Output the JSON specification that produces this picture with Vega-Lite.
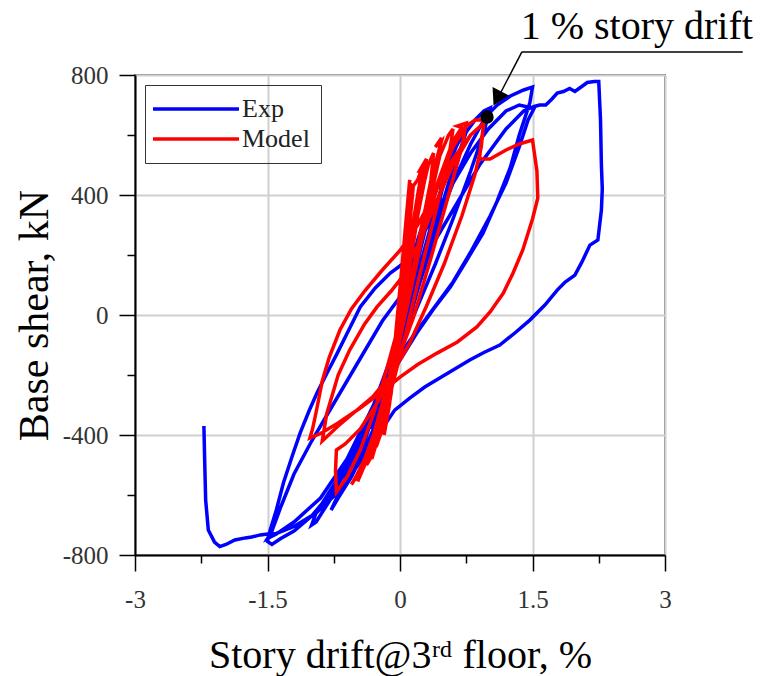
{
  "$schema": "https://vega.github.io/schema/vega-lite/v6.json",
  "width": 530,
  "height": 480,
  "autosize": "none",
  "padding": {"left": 135, "top": 75, "right": 101, "bottom": 121},
  "config": {
    "font": "Liberation Serif",
    "view": {"stroke": "#7a7a7a", "strokeWidth": 2},
    "axis": {
      "domainColor": "black",
      "domainWidth": 2,
      "tickColor": "black",
      "tickWidth": 1.5,
      "gridColor": "#d0d0d0",
      "gridWidth": 2,
      "labelFont": "Liberation Serif",
      "labelFontSize": 25,
      "labelColor": "#333333",
      "labelOverlap": false,
      "labelFlush": false,
      "titleFont": "Liberation Serif",
      "titleFontWeight": "normal",
      "titleColor": "black"
    }
  },
  "datasets": {
    "exp": [
      {"x":0,"y":0},{"x":0.1,"y":130},{"x":0.2,"y":250},{"x":0.3,"y":340},{"x":0.35,"y":380},{"x":0.3,"y":300},{"x":0.2,"y":180},{"x":0.1,"y":60},{"x":0,"y":-70},{"x":-0.1,"y":-180},{"x":-0.2,"y":-270},{"x":-0.3,"y":-350},{"x":-0.33,"y":-380},{"x":-0.25,"y":-310},{"x":-0.15,"y":-220},{"x":-0.05,"y":-120},{"x":0.05,"y":10},{"x":0.15,"y":150},{"x":0.25,"y":270},{"x":0.35,"y":370},
      {"x":0.45,"y":450},{"x":0.55,"y":520},{"x":0.5,"y":460},{"x":0.4,"y":350},{"x":0.25,"y":190},{"x":0.1,"y":40},{"x":0,"y":-60},{"x":-0.1,"y":-150},{"x":-0.25,"y":-290},{"x":-0.4,"y":-420},{"x":-0.5,"y":-500},{"x":-0.55,"y":-540},{"x":-0.45,"y":-480},{"x":-0.3,"y":-380},{"x":-0.15,"y":-260},{"x":0,"y":-120},{"x":0.1,"y":0},{"x":0.25,"y":170},{"x":0.4,"y":330},{"x":0.55,"y":500},
      {"x":0.65,"y":570},{"x":0.75,"y":620},{"x":0.7,"y":560},{"x":0.55,"y":420},{"x":0.35,"y":220},{"x":0.15,"y":40},{"x":0,"y":-70},{"x":-0.15,"y":-190},{"x":-0.35,"y":-360},{"x":-0.55,"y":-500},{"x":-0.7,"y":-600},{"x":-0.78,"y":-650},{"x":-0.7,"y":-610},{"x":-0.55,"y":-540},{"x":-0.35,"y":-420},{"x":-0.15,"y":-260},{"x":0,"y":-130},{"x":0.15,"y":30},{"x":0.35,"y":240},{"x":0.55,"y":440},{"x":0.75,"y":610},
      {"x":0.85,"y":650},{"x":0.95,"y":680},{"x":1.02,"y":690},{"x":0.95,"y":610},{"x":0.8,"y":480},{"x":0.6,"y":320},{"x":0.4,"y":170},{"x":0.2,"y":30},{"x":0,"y":-110},{"x":-0.2,"y":-250},{"x":-0.4,"y":-390},{"x":-0.6,"y":-510},{"x":-0.8,"y":-620},{"x":-0.95,"y":-690},{"x":-1.0,"y":-700},{"x":-0.95,"y":-660},{"x":-0.8,"y":-590},{"x":-0.6,"y":-500},{"x":-0.4,"y":-380},{"x":-0.2,"y":-220},{"x":0,"y":-60},{"x":0.2,"y":120},{"x":0.4,"y":290},{"x":0.6,"y":440},{"x":0.8,"y":570},{"x":0.95,"y":650},{"x":1.0,"y":670},
      {"x":1.1,"y":700},{"x":1.25,"y":730},{"x":1.4,"y":750},{"x":1.5,"y":760},{"x":1.47,"y":707},{"x":1.35,"y":600},{"x":1.25,"y":493},{"x":1.1,"y":380},{"x":0.94,"y":273},{"x":0.75,"y":180},{"x":0.57,"y":93},{"x":0.38,"y":20},{"x":0.19,"y":-60},{"x":0,"y":-150},{"x":-0.2,"y":-260},{"x":-0.4,"y":-380},{"x":-0.6,"y":-500},{"x":-0.8,"y":-600},{"x":-1.0,"y":-670},{"x":-1.2,"y":-720},{"x":-1.35,"y":-745},{"x":-1.45,"y":-765},{"x":-1.5,"y":-755},{"x":-1.47,"y":-717},{"x":-1.4,"y":-650},{"x":-1.32,"y":-560},{"x":-1.22,"y":-470},{"x":-1.13,"y":-393},{"x":-1.03,"y":-320},{"x":-0.94,"y":-260},{"x":-0.82,"y":-190},{"x":-0.71,"y":-127},{"x":-0.58,"y":-50},{"x":-0.45,"y":27},{"x":-0.28,"y":90},{"x":-0.11,"y":140},{"x":0.03,"y":170},{"x":0.2,"y":240},{"x":0.4,"y":340},{"x":0.6,"y":440},{"x":0.8,"y":540},{"x":1.0,"y":620},{"x":1.2,"y":680},{"x":1.35,"y":700},{"x":1.5,"y":690},
      {"x":1.52,"y":690},{"x":1.45,"y":650},{"x":1.35,"y":560},{"x":1.2,"y":440},{"x":1.02,"y":330},{"x":0.8,"y":210},{"x":0.6,"y":110},{"x":0.4,"y":30},{"x":0.2,"y":-50},{"x":0,"y":-130},{"x":-0.3,"y":-300},{"x":-0.6,"y":-480},{"x":-0.9,"y":-610},{"x":-1.2,"y":-690},{"x":-1.4,"y":-730},{"x":-1.5,"y":-745},{"x":-1.45,"y":-720},{"x":-1.35,"y":-640},{"x":-1.2,"y":-530},{"x":-1.0,"y":-420},{"x":-0.8,"y":-320},{"x":-0.6,"y":-220},{"x":-0.4,"y":-120},{"x":-0.2,"y":-20},{"x":0,"y":60},{"x":0.3,"y":200},{"x":0.6,"y":350},{"x":0.9,"y":500},{"x":1.2,"y":620},{"x":1.4,"y":680},{"x":1.52,"y":695},
      {"x":1.58,"y":700},{"x":1.65,"y":700},{"x":1.72,"y":720},{"x":1.78,"y":740},{"x":1.85,"y":745},{"x":1.92,"y":755},{"x":1.98,"y":745},{"x":2.05,"y":760},{"x":2.12,"y":775},{"x":2.2,"y":778},{"x":2.25,"y":778},{"x":2.27,"y":650},{"x":2.28,"y":500},{"x":2.29,"y":420},{"x":2.28,"y":350},{"x":2.26,"y":300},{"x":2.24,"y":250},{"x":2.15,"y":233},{"x":2.06,"y":177},{"x":1.98,"y":133},{"x":1.87,"y":110},{"x":1.78,"y":83},{"x":1.64,"y":33},{"x":1.47,"y":-17},{"x":1.3,"y":-60},{"x":1.13,"y":-100},{"x":0.95,"y":-125},{"x":0.79,"y":-150},{"x":0.62,"y":-180},{"x":0.45,"y":-210},{"x":0.28,"y":-240},{"x":0.11,"y":-277},{"x":-0.06,"y":-317},{"x":-0.25,"y":-400},{"x":-0.45,"y":-490},{"x":-0.7,"y":-590},{"x":-0.95,"y":-660},{"x":-1.2,"y":-705},{"x":-1.4,"y":-728},{"x":-1.5,"y":-730},{"x":-1.58,"y":-733},{"x":-1.68,"y":-740},{"x":-1.75,"y":-743},{"x":-1.87,"y":-750},{"x":-1.97,"y":-765},{"x":-2.04,"y":-772},{"x":-2.1,"y":-757},{"x":-2.17,"y":-717},{"x":-2.2,"y":-617},{"x":-2.21,"y":-500},{"x":-2.22,"y":-370}
    ],
    "model": [
      {"x":0,"y":0},{"x":0.05,"y":150},{"x":0.1,"y":300},{"x":0.12,"y":440},{"x":0.08,"y":330},{"x":0.03,"y":150},{"x":-0.03,"y":-50},{"x":-0.1,"y":-220},{"x":-0.15,"y":-350},{"x":-0.1,"y":-260},{"x":-0.04,"y":-100},{"x":0.02,"y":80},{"x":0.08,"y":280},{"x":0.11,"y":450},{"x":0.07,"y":320},{"x":0.01,"y":120},{"x":-0.06,"y":-100},{"x":-0.13,"y":-280},{"x":-0.18,"y":-400},{"x":-0.12,"y":-300},{"x":-0.05,"y":-130},{"x":0.02,"y":60},{"x":0.1,"y":270},{"x":0.15,"y":430},
      {"x":0.2,"y":450},{"x":0.26,"y":500},{"x":0.2,"y":400},{"x":0.1,"y":220},{"x":0,"y":30},{"x":-0.1,"y":-170},{"x":-0.2,"y":-330},{"x":-0.27,"y":-440},{"x":-0.2,"y":-380},{"x":-0.1,"y":-230},{"x":0,"y":-60},{"x":0.1,"y":140},{"x":0.2,"y":330},{"x":0.3,"y":480},
      {"x":0.22,"y":480},{"x":0.3,"y":520},{"x":0.25,"y":430},{"x":0.15,"y":260},{"x":0.05,"y":80},{"x":-0.05,"y":-100},{"x":-0.15,"y":-260},{"x":-0.25,"y":-400},{"x":-0.32,"y":-480},{"x":-0.26,"y":-420},{"x":-0.16,"y":-300},{"x":-0.06,"y":-140},{"x":0.04,"y":40},{"x":0.14,"y":230},{"x":0.24,"y":400},{"x":0.32,"y":500},
      {"x":0.38,"y":540},{"x":0.35,"y":450},{"x":0.25,"y":300},{"x":0.12,"y":110},{"x":0,"y":-80},{"x":-0.12,"y":-250},{"x":-0.25,"y":-400},{"x":-0.38,"y":-500},{"x":-0.3,"y":-460},{"x":-0.18,"y":-330},{"x":-0.05,"y":-160},{"x":0.08,"y":40},{"x":0.22,"y":260},{"x":0.36,"y":460},{"x":0.47,"y":580},
      {"x":0.4,"y":560},{"x":0.47,"y":590},{"x":0.42,"y":500},{"x":0.3,"y":330},{"x":0.15,"y":130},{"x":0,"y":-70},{"x":-0.15,"y":-250},{"x":-0.3,"y":-400},{"x":-0.42,"y":-510},{"x":-0.48,"y":-555},{"x":-0.4,"y":-500},{"x":-0.28,"y":-400},{"x":-0.12,"y":-230},{"x":0.03,"y":-40},{"x":0.18,"y":160},{"x":0.33,"y":370},{"x":0.45,"y":530},{"x":0.55,"y":600},
      {"x":0.6,"y":620},{"x":0.55,"y":520},{"x":0.4,"y":340},{"x":0.22,"y":130},{"x":0.05,"y":-80},{"x":-0.1,"y":-250},{"x":-0.3,"y":-420},{"x":-0.5,"y":-540},{"x":-0.55,"y":-565},{"x":-0.45,"y":-520},{"x":-0.3,"y":-400},{"x":-0.12,"y":-210},{"x":0.05,"y":0},{"x":0.2,"y":200},{"x":0.4,"y":420},{"x":0.6,"y":580},{"x":0.7,"y":625},
      {"x":0.65,"y":630},{"x":0.75,"y":640},{"x":0.7,"y":560},{"x":0.55,"y":400},{"x":0.35,"y":190},{"x":0.15,"y":-10},{"x":-0.05,"y":-170},{"x":-0.25,"y":-290},{"x":-0.45,"y":-380},{"x":-0.62,"y":-430},{"x":-0.72,"y":-450},{"x":-0.73,"y":-520},{"x":-0.72,"y":-590},{"x":-0.6,"y":-540},{"x":-0.45,"y":-450},{"x":-0.3,"y":-330},{"x":-0.15,"y":-180},{"x":0,"y":-20},{"x":0.15,"y":150},{"x":0.3,"y":310},{"x":0.45,"y":450},{"x":0.6,"y":560},{"x":0.75,"y":630},{"x":0.85,"y":650},
      {"x":0.95,"y":650},{"x":0.92,"y":560},{"x":0.85,"y":470},{"x":0.7,"y":330},{"x":0.5,"y":170},{"x":0.3,"y":30},{"x":0.1,"y":-100},{"x":-0.1,"y":-200},{"x":-0.3,"y":-270},{"x":-0.5,"y":-320},{"x":-0.7,"y":-370},{"x":-0.88,"y":-420},{"x":-0.83,"y":-330},{"x":-0.7,"y":-200},{"x":-0.57,"y":-117},{"x":-0.4,"y":-30},{"x":-0.26,"y":27},{"x":-0.1,"y":80},{"x":0,"y":117},{"x":0.2,"y":230},{"x":0.4,"y":370},{"x":0.6,"y":500},{"x":0.8,"y":600},{"x":0.95,"y":640},
      {"x":0.92,"y":580},{"x":0.9,"y":520},{"x":1.02,"y":520},{"x":1.2,"y":550},{"x":1.35,"y":570},{"x":1.5,"y":583},{"x":1.55,"y":480},{"x":1.56,"y":390},{"x":1.5,"y":320},{"x":1.39,"y":217},{"x":1.28,"y":140},{"x":1.17,"y":73},{"x":1.02,"y":10},{"x":0.87,"y":-40},{"x":0.65,"y":-90},{"x":0.42,"y":-127},{"x":0.2,"y":-165},{"x":0,"y":-207},{"x":-0.2,"y":-255},{"x":-0.45,"y":-310},{"x":-0.7,"y":-360},{"x":-0.9,"y":-395},{"x":-1.02,"y":-410},{"x":-0.99,"y":-380},{"x":-0.94,"y":-310},{"x":-0.88,"y":-220},{"x":-0.8,"y":-140},{"x":-0.68,"y":-50},{"x":-0.55,"y":20},{"x":-0.4,"y":80},{"x":-0.2,"y":150},{"x":0,"y":215},{"x":0.2,"y":300},{"x":0.4,"y":410},{"x":0.6,"y":520},{"x":0.8,"y":600},{"x":0.93,"y":635}
    ]
  },
  "layer": [
    {
      "data": {"name": "exp"},
      "mark": {"type": "line", "order": false, "strokeWidth": 3.5, "clip": true},
      "encoding": {
        "x": {
          "field": "x", "type": "quantitative",
          "scale": {"domain": [-3, 3], "nice": false, "zero": false},
          "axis": {
            "values": [-3, -2.25, -1.5, -0.75, 0, 0.75, 1.5, 2.25, 3],
            "labelExpr": "abs(datum.value % 1.5) < 0.001 ? '' + datum.value : ''",
            "tickSize": {"condition": {"test": "abs(datum.value % 1.5) < 0.001", "value": 16}, "value": 8},
            "gridOpacity": {"condition": {"test": "abs(datum.value % 1.5) < 0.001", "value": 1}, "value": 0},
            "labelFont": "Liberation Serif",
            "labelFontSize": 25,
            "labelPadding": 16,
            "title": "Story drift@3ʳᵈ floor, %",
            "titleFontSize": 40,
            "titlePadding": 23
          }
        },
        "y": {
          "field": "y", "type": "quantitative",
          "scale": {"domain": [-800, 800], "nice": false, "zero": false},
          "axis": {
            "values": [-800, -600, -400, -200, 0, 200, 400, 600, 800],
            "labelExpr": "abs(datum.value % 400) < 1 ? '' + datum.value : ''",
            "tickSize": {"condition": {"test": "abs(datum.value % 400) < 1", "value": 16}, "value": 8},
            "gridOpacity": {"condition": {"test": "abs(datum.value % 400) < 1", "value": 1}, "value": 0},
            "labelFont": "Liberation Serif",
            "labelFontSize": 25,
            "labelPadding": 11,
            "title": "Base shear, kN",
            "titleFontSize": 42,
            "titlePadding": 6
          }
        },
        "color": {
          "datum": "Exp",
          "scale": {"domain": ["Exp", "Model"], "range": ["#0000ff", "#ff0000"]},
          "legend": {
            "title": null,
            "orient": "top-left",
            "offset": 10,
            "padding": 11,
            "strokeColor": "#333333",
            "symbolType": "M-5,0H5",
            "symbolSize": 296,
            "symbolStrokeWidth": 3.5,
            "symbolOffset": 27,
            "labelOffset": 33,
            "labelFont": "Liberation Serif",
            "labelFontSize": 26,
            "labelColor": "#222222",
            "rowPadding": 4
          }
        }
      }
    },
    {
      "data": {"name": "model"},
      "mark": {"type": "line", "order": false, "strokeWidth": 3.5, "clip": true},
      "encoding": {
        "x": {"field": "x", "type": "quantitative"},
        "y": {"field": "y", "type": "quantitative"},
        "color": {"datum": "Model"}
      }
    },
    {
      "data": {"values": [{"x": 1.38, "x2": 3.88, "y": 877}]},
      "mark": {"type": "rule", "color": "black", "strokeWidth": 1.5},
      "encoding": {
        "x": {"field": "x", "type": "quantitative"},
        "x2": {"field": "x2"},
        "y": {"field": "y", "type": "quantitative"}
      }
    },
    {
      "data": {"values": [{"x": 1.38, "y": 877, "x2": 1.12, "y2": 730}]},
      "mark": {"type": "rule", "color": "black", "strokeWidth": 1.5},
      "encoding": {
        "x": {"field": "x", "type": "quantitative"},
        "y": {"field": "y", "type": "quantitative"},
        "x2": {"field": "x2"},
        "y2": {"field": "y2"}
      }
    },
    {
      "data": {"values": [{"x": 1.1, "y": 722}]},
      "mark": {"type": "point", "shape": "triangle-down", "filled": true, "color": "black", "opacity": 1, "size": 340, "angle": 27, "strokeWidth": 0},
      "encoding": {
        "x": {"field": "x", "type": "quantitative"},
        "y": {"field": "y", "type": "quantitative"}
      }
    },
    {
      "data": {"values": [{"x": 0.985, "y": 660}]},
      "mark": {"type": "point", "shape": "circle", "filled": true, "color": "black", "opacity": 1, "size": 180},
      "encoding": {
        "x": {"field": "x", "type": "quantitative"},
        "y": {"field": "y", "type": "quantitative"}
      }
    },
    {
      "data": {"values": [{"x": 2.68, "y": 920, "t": "1 % story drift"}]},
      "mark": {"type": "text", "font": "Liberation Serif", "fontSize": 40, "align": "center", "baseline": "alphabetic", "color": "black"},
      "encoding": {
        "x": {"field": "x", "type": "quantitative"},
        "y": {"field": "y", "type": "quantitative"},
        "text": {"field": "t"}
      }
    }
  ]
}
